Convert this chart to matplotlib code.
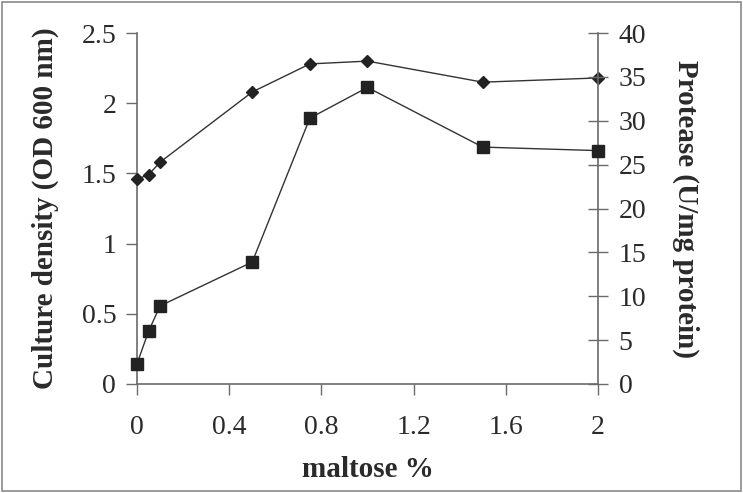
import matplotlib
matplotlib.use("Agg")
import matplotlib.pyplot as plt
from matplotlib.patches import Rectangle

maltose = [0, 0.05, 0.1, 0.5, 0.75, 1.0, 1.5, 2.0]
culture_density = [1.46, 1.49, 1.58, 2.08, 2.28, 2.30, 2.15, 2.18]
protease = [2.3, 6.0, 8.9, 13.9, 30.3, 33.8, 27.0, 26.6]

x_ticks = [0, 0.4, 0.8, 1.2, 1.6, 2]
left_ticks = [0, 0.5, 1, 1.5, 2, 2.5]
right_ticks = [0, 5, 10, 15, 20, 25, 30, 35, 40]

plt.rcParams["font.family"] = ["Liberation Serif", "DejaVu Serif"]
text_color = "#2a2a2a"
axis_color = "#6a6a6a"

fig = plt.figure(figsize=(7.43, 4.93), dpi=100)
fig.patches.append(Rectangle((0.003, 0.004), 0.994, 0.992, transform=fig.transFigure,
                             fill=False, edgecolor="#8a8a8a", linewidth=1.2))
ax = fig.add_axes([0.1844, 0.2211, 0.6204, 0.7119])
ax2 = ax.twinx()

ax.plot(maltose, culture_density, color="#333333", linewidth=1.0, marker="D",
        markersize=6, markerfacecolor="#222222", markeredgecolor="#222222", clip_on=False, zorder=3)
ax2.plot(maltose, protease, color="#333333", linewidth=1.0, marker="s",
         markersize=9, markerfacecolor="#222222", markeredgecolor="#222222", clip_on=False, zorder=3)

ax.set_xlim(0, 2)
ax.set_ylim(0, 2.5)
ax2.set_ylim(0, 40)
ax.set_xticks(x_ticks)
ax.set_xticklabels([f"{t:g}" for t in x_ticks])
ax.set_yticks(left_ticks)
ax.set_yticklabels([f"{t:g}" for t in left_ticks])
ax2.set_yticks(right_ticks)

for a in (ax, ax2):
    a.spines["top"].set_visible(False)
    for s in ("left", "right", "bottom"):
        a.spines[s].set_color(axis_color)
        a.spines[s].set_linewidth(1.2)
ax.spines["right"].set_visible(False)
ax2.spines["left"].set_visible(False)
ax2.spines["bottom"].set_visible(False)

ax.tick_params(axis="both", direction="out", length=8, width=1.0, color=axis_color,
               labelsize=20, labelcolor=text_color, pad=7)
ax.tick_params(axis="x", pad=14)
ax2.tick_params(axis="y", direction="inout", length=14, width=1.0, color=axis_color,
                labelsize=20, labelcolor=text_color, pad=8)

ax.set_xlabel("maltose %", fontsize=21, fontweight="bold", color=text_color, labelpad=12)
ax.set_ylabel("Culture density (OD 600 nm)", fontsize=21, fontweight="bold",
              color=text_color, labelpad=16)
ax2.set_ylabel("Protease (U/mg protein)", fontsize=21, fontweight="bold",
               color=text_color, rotation=270, labelpad=38)

fig.savefig("out.png", dpi=100)
